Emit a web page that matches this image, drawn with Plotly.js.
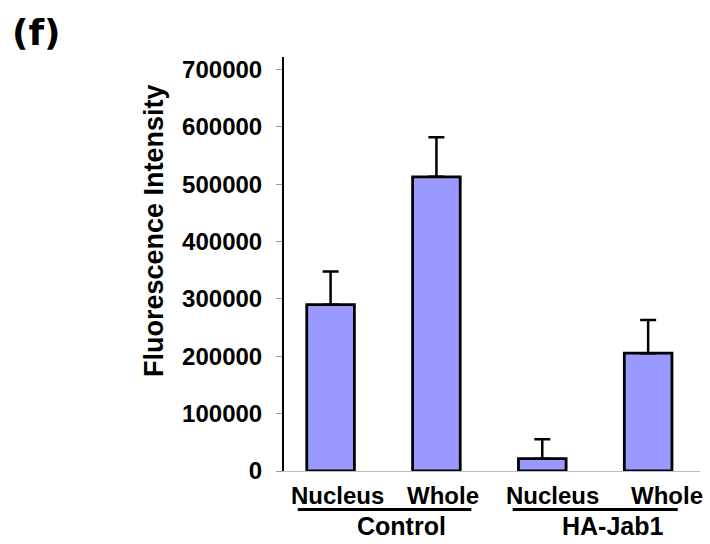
<!DOCTYPE html>
<html>
<head>
<meta charset="utf-8">
<script src="https://cdn.plot.ly/plotly-3.0.1.min.js"></script>
<style>html,body{margin:0;padding:0;background:#fff;}#chart{width:710px;height:544px;}</style>
</head>
<body>
<div id="chart"></div>
<script>
const categories = ["Nucleus", "Whole", "Nucleus", "Whole"];
const values = [290000, 513000, 21500, 205500];
const errors = [58000, 69000, 34000, 58000];
const groups = ["Control", "HA-Jab1"];
const yTicks = [0, 100000, 200000, 300000, 400000, 500000, 600000, 700000];

const FONT = "Liberation Sans, Arial, sans-serif";
const xpos = categories.map((c, i) => i);
const labelShift = [7, 7, 10, 19];

const trace = {
  type: "bar",
  x: xpos,
  y: values,
  width: 0.45,
  marker: {color: "#9999FF", line: {color: "#000", width: 2.8}},
  error_y: {type: "data", array: errors, symmetric: false, arrayminus: errors.map(() => 0),
            color: "#000", thickness: 2.5, width: 8},
  hoverinfo: "skip"
};

const annotations = categories.map((c, i) => ({
  text: c, xref: "x", yref: "paper", x: i, y: -0.058, xshift: labelShift[i],
  showarrow: false, xanchor: "center", yanchor: "middle",
  font: {family: FONT, size: 24, color: "#000", weight: "bold"}
}));
annotations.push(
  {text: groups[0], xref: "x", yref: "paper", x: 0.5, y: -0.134, xshift: 18, showarrow: false,
   xanchor: "center", yanchor: "middle",
   font: {family: FONT, size: 25, color: "#000", weight: "bold"}},
  {text: groups[1], xref: "x", yref: "paper", x: 2.5, y: -0.134, xshift: 18, showarrow: false,
   xanchor: "center", yanchor: "middle",
   font: {family: FONT, size: 25, color: "#000", weight: "bold"}},
  {text: "Fluorescence Intensity", xref: "paper", yref: "paper", x: -0.312, y: 0.58,
   textangle: -90, showarrow: false, xanchor: "center", yanchor: "middle",
   font: {family: FONT, size: 27, color: "#000", weight: "bold"}},
  {text: "(f)", xref: "paper", yref: "paper", x: -0.658, y: 1.06, showarrow: false,
   xanchor: "left", yanchor: "middle",
   font: {family: "DejaVu Sans, sans-serif", size: 36, color: "#000", weight: "bold"}}
);

const layout = {
  width: 710, height: 544,
  margin: {l: 284, r: 10, t: 57, b: 73},
  paper_bgcolor: "#fff", plot_bgcolor: "#fff",
  showlegend: false,
  xaxis: {
    range: [-0.44, 3.49],
    tickvals: xpos, showticklabels: false,
    showgrid: false, zeroline: false,
    showline: true, linecolor: "#bdbdbd", linewidth: 1,
    ticks: "",
    fixedrange: true
  },
  yaxis: {
    range: [0, 722000],
    tickvals: yTicks, ticktext: yTicks.map(String),
    showgrid: false, zeroline: false,
    showline: true, linecolor: "#000", linewidth: 2,
    ticks: "outside", ticklen: 6, tickcolor: "#9a9a9a", tickwidth: 1,
    ticklabelstandoff: 9,
    tickfont: {family: FONT, size: 24, color: "#000", weight: "bold"},
    fixedrange: true
  },
  shapes: [
    {type: "line", xref: "x", yref: "paper", x0: -0.31, x1: 1.33, y0: -0.093, y1: -0.093,
     line: {color: "#000", width: 3}},
    {type: "line", xref: "x", yref: "paper", x0: 1.72, x1: 3.28, y0: -0.093, y1: -0.093,
     line: {color: "#000", width: 3}}
  ],
  annotations: annotations
};

Plotly.newPlot("chart", [trace], layout, {displayModeBar: false, staticPlot: true});
</script>
</body>
</html>
